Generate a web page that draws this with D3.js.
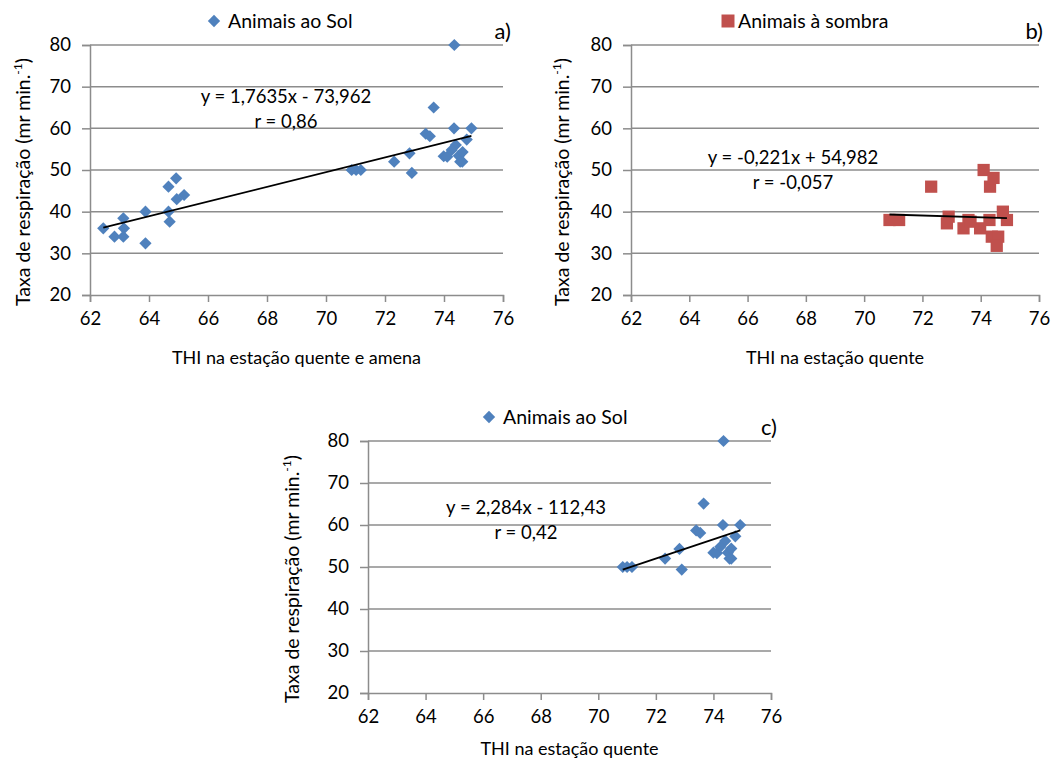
<!DOCTYPE html>
<html><head><meta charset="utf-8">
<script src="https://cdn.jsdelivr.net/npm/d3@7"></script>
<style>body{margin:0;background:#fff}svg{display:block}text{font-family:Lato,"Open Sans",sans-serif;fill:#000}</style>
</head><body>
<svg id="chart" width="1052" height="764"></svg>
<script>
// ---- data ----
const xTicks = [62,64,66,68,70,72,74,76];
const yTicks = [20,30,40,50,60,70,80];

// a) Animais ao Sol - estação quente e amena
const solAllThi  = [62.45,62.83,63.13,63.15,63.13,63.88,63.88,64.66,64.66,64.70,64.92,64.94,65.19,
                    70.87,71.02,71.18,72.31,72.83,72.91,73.38,73.52,73.65,73.99,74.11,74.34,74.35,74.40,74.26,74.50,74.55,74.62,74.63,74.77,74.93];
const solAllRate = [36,34,38.4,36,34,40,32.4,46,40,37.6,48,43,44,
                    50,50,50,52,54,49.3,58.7,58.1,65,53.3,53.2,60,80,56,54.8,53.4,52,52,54.3,57.3,60];
const fitA = {slope:1.7635, intercept:-73.962, eq:"y = 1,7635x - 73,962", r:"r = 0,86"};

// b) Animais à sombra - estação quente
const sombraThi  = [70.87,71.20,72.30,72.90,72.84,73.41,73.58,73.65,73.98,74.10,74.30,74.32,74.44,74.38,74.60,74.55,74.76,74.90];
const sombraRate = [38,38,46,38.8,37.2,36,38,37.6,36,50,38,46,48.1,34,34,31.8,40,38];
const fitB = {slope:-0.221, intercept:54.982, eq:"y = -0,221x + 54,982", r:"r = -0,057"};

// c) Animais ao Sol - estação quente
const solHotThi  = [70.85,71.00,71.17,72.32,72.82,72.90,73.40,73.54,73.66,74.00,74.12,74.33,74.35,74.41,74.24,74.50,74.56,74.62,74.62,74.76,74.93];
const solHotRate = [50,50,50,52,54.3,49.4,58.7,58.1,65.1,53.4,53.3,60,80,56.2,54.8,53.4,52,52,54.4,57.3,60];
const fitC = {slope:2.284, intercept:-112.43, eq:"y = 2,284x - 112,43", r:"r = 0,42"};

const BLUE = "#4F81BD", RED = "#C0504D", GRID = "#8c8c8c";
const svg = d3.select("#chart");

function panel(o){
  const g = svg.append("g");
  const x = d3.scaleLinear().domain([62,76]).range([o.x0,o.x1]);
  const y = d3.scaleLinear().domain([20,80]).range([o.y1,o.y0]);
  // gridlines
  g.selectAll(".grid").data(yTicks.filter(v=>v>20)).join("line")
    .attr("x1",o.x0).attr("x2",o.x1).attr("y1",d=>y(d)).attr("y2",d=>y(d))
    .attr("stroke",GRID).attr("stroke-width",1.5);
  // axes
  const ya = g.append("g").attr("transform",`translate(${o.x0},0)`)
    .call(d3.axisLeft(y).tickValues(yTicks).tickSize(8).tickPadding(11));
  const xa = g.append("g").attr("transform",`translate(0,${o.y1})`)
    .call(d3.axisBottom(x).tickValues(xTicks).tickSize(7).tickPadding(10));
  [ya,xa].forEach(a=>{
    a.select(".domain").attr("stroke",GRID).attr("stroke-width",1.5);
    a.selectAll(".tick line").attr("stroke",GRID).attr("stroke-width",1.5);
    a.selectAll(".tick text").style("font-size","18.5px").style("font-family","Lato, sans-serif").attr("fill","#000");
  });
  // points
  const pts = o.xs.map((v,i)=>[v,o.ys[i]]);
  if(o.shape==="diamond"){
    g.selectAll(".pt").data(pts).join("path")
      .attr("d",d3.symbol(d3.symbolSquare,75)())
      .attr("transform",d=>`translate(${x(d[0])},${y(d[1])}) rotate(45)`)
      .attr("fill",o.color);
  } else {
    g.selectAll(".pt").data(pts).join("path")
      .attr("d",d3.symbol(d3.symbolSquare,150)())
      .attr("transform",d=>`translate(${x(d[0])},${y(d[1])})`)
      .attr("fill",o.color);
  }
  // trend line
  const ext = d3.extent(o.xs);
  g.append("line")
    .attr("x1",x(ext[0])).attr("y1",y(o.fit.slope*ext[0]+o.fit.intercept))
    .attr("x2",x(ext[1])).attr("y2",y(o.fit.slope*ext[1]+o.fit.intercept))
    .attr("stroke","#000").attr("stroke-width",1.8);
  // equation
  g.append("text").attr("x",o.eqx).attr("y",o.eqy).attr("text-anchor","middle")
    .style("font-size","18.5px").text(o.fit.eq);
  g.append("text").attr("x",o.eqx).attr("y",o.eqy+25).attr("text-anchor","middle")
    .style("font-size","18.5px").text(o.fit.r);
  // legend
  const lg = g.append("g").attr("transform",`translate(${o.lx},${o.ly})`);
  if(o.shape==="diamond"){
    lg.append("path").attr("d",d3.symbol(d3.symbolSquare,76)()).attr("transform","rotate(45)").attr("fill",o.color);
  } else {
    lg.append("path").attr("d",d3.symbol(d3.symbolSquare,169)()).attr("fill",o.color);
  }
  lg.append("text").attr("x",o.ltx).attr("y",6.5).style("font-size","19.5px").text(o.legend);
  // panel letter
  g.append("text").attr("x",o.px).attr("y",o.py).attr("text-anchor","end").style("font-size","22px").text(o.letter);
  // axis titles
  g.append("text").attr("x",(o.x0+o.x1)/2).attr("y",o.y1+o.xto).attr("text-anchor","middle")
    .style("font-size","18px").text(o.xtitle);
  const yt = g.append("text").attr("transform",`translate(${o.ytx},${(o.y0+o.y1)/2+12}) rotate(-90)`)
    .attr("text-anchor","middle").style("font-size","19.5px");
  yt.append("tspan").text("Taxa de respiração (mr min.");
  yt.append("tspan").attr("dy",-8).style("font-size","12px").text("-1");
  yt.append("tspan").attr("dy",8).text(")");
}

panel({x0:90,x1:503,y0:45,y1:295,xs:solAllThi,ys:solAllRate,fit:fitA,shape:"diamond",color:BLUE,
  eqx:286,eqy:103,lx:214,ly:21,ltx:14,legend:"Animais ao Sol",letter:"a)",px:511,py:39,
  xtitle:"THI na estação quente e amena",xto:69,ytx:30});
panel({x0:631,x1:1039,y0:45,y1:295,xs:sombraThi,ys:sombraRate,fit:fitB,shape:"square",color:RED,
  eqx:793,eqy:164,lx:728,ly:21,ltx:10,legend:"Animais à sombra",letter:"b)",px:1043,py:39,
  xtitle:"THI na estação quente",xto:69,ytx:569});
panel({x0:368,x1:771,y0:441,y1:693,xs:solHotThi,ys:solHotRate,fit:fitC,shape:"diamond",color:BLUE,
  eqx:526,eqy:514,lx:489,ly:417,ltx:14,legend:"Animais ao Sol",letter:"c)",px:777,py:435,
  xtitle:"THI na estação quente",xto:62,ytx:299});
</script>
</body></html>
